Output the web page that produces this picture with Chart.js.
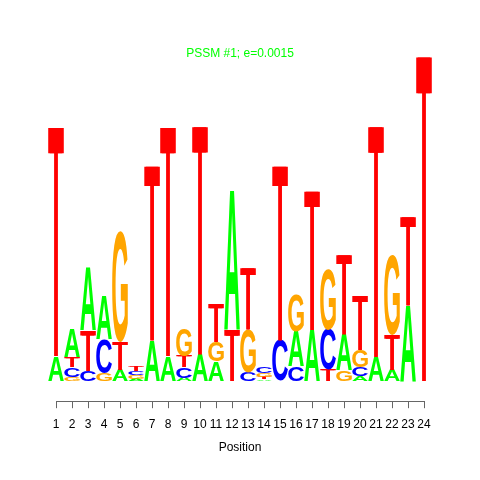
<!DOCTYPE html>
<html>
<head>
<meta charset="utf-8">
<script src="https://cdn.jsdelivr.net/npm/chart.js@4"></script>
<style>
  html, body { margin: 0; padding: 0; background: #ffffff; }
  #wrap { width: 480px; height: 480px; }
</style>
</head>
<body>
<div id="wrap"><canvas id="c" width="480" height="480"></canvas></div>
<script>
// Positions along the motif
const positions = [1,2,3,4,5,6,7,8,9,10,11,12,13,14,15,16,17,18,19,20,21,22,23,24];
const tickLabels = ["1","2","3","4","5","6","7","8","9","10","11","12","13","14","15","16","17","18","19","20","21","22","23","24"];
// Letter heights per position (stacked smallest at bottom)
const heightA = [0.31,0.35,0.78,0.54,0.14,0.03,0.50,0.31,0.04,0.33,0.24,1.73,0,0.02,0,0.43,0.64,0,0.44,0.06,0.30,0.14,0.94,0];
const heightC = [0,0.12,0.13,0.43,0,0.05,0,0,0.13,0,0,0,0.11,0.08,0.50,0.18,0,0.50,0,0.11,0,0,0,0];
const heightG = [0,0.05,0,0.09,1.38,0.04,0,0,0.35,0,0.25,0,0.53,0.05,0,0.45,0,0.76,0.13,0.21,0,1.00,0,0];
const heightT = [2.86,0.13,0.50,0,0.35,0.06,2.18,2.86,0.14,2.85,0.48,0.64,0.76,0.03,2.18,0,1.73,0.14,1.00,0.68,2.88,0.43,1.11,4.06];
const letterColors = { A: "#00FF00", C: "#0000FF", G: "#FFA500", T: "#FF0000" };

const glyphCache = {};
function glyphMetrics(ctx, ch, font) {
  const key = font + ch;
  if (!glyphCache[key]) {
    ctx.save();
    ctx.font = font;
    const m = ctx.measureText(ch);
    glyphCache[key] = {
      left: m.actualBoundingBoxLeft, right: m.actualBoundingBoxRight,
      ascent: m.actualBoundingBoxAscent, descent: m.actualBoundingBoxDescent
    };
    ctx.restore();
  }
  return glyphCache[key];
}

function drawGlyph(ctx, ch, font, x0, y0, w, h) {
  const g = glyphMetrics(ctx, ch, font);
  const gw = g.left + g.right, gh = g.ascent + g.descent;
  ctx.save();
  ctx.font = font;
  ctx.textAlign = 'left';
  ctx.textBaseline = 'alphabetic';
  ctx.fillStyle = letterColors[ch];
  ctx.translate(x0, y0);
  ctx.scale(w / gw, h / gh);
  ctx.fillText(ch, g.left, g.ascent);
  ctx.restore();
}

const logoPlugin = {
  id: 'logo',
  afterDraw(chart) {
    const ctx = chart.ctx;
    const xs = chart.scales.x, ys = chart.scales.y;
    const step = xs.getPixelForValue(2) - xs.getPixelForValue(1);
    const w = step * 0.98;
    positions.forEach((p, i) => {
      const stack = [['A', heightA[i]], ['C', heightC[i]], ['G', heightG[i]], ['T', heightT[i]]]
        .filter(d => d[1] > 0)
        .sort((a, b) => a[1] - b[1]);
      let base = 0;
      const cx = xs.getPixelForValue(p);
      stack.forEach(([ch, h]) => {
        const yTop = ys.getPixelForValue(base + h);
        const yBot = ys.getPixelForValue(base);
        const hh = yBot - yTop;
        if (ch === 'T') {
          // regular-weight T, doubled sideways for a heavier stem
          const font = '200px "Liberation Sans"';
          const d = 1.5;
          drawGlyph(ctx, ch, font, cx - w / 2, yTop, w - d, hh);
          drawGlyph(ctx, ch, font, cx - w / 2 + d, yTop, w - d, hh);
        } else {
          drawGlyph(ctx, ch, 'bold 200px "Liberation Sans"', cx - w / 2, yTop, w, hh);
        }
        base += h;
      });
    });
  }
};

new Chart(document.getElementById('c'), {
  type: 'scatter',
  data: { datasets: [{ data: [], showLine: false }] },
  options: {
    responsive: false,
    animation: false,
    layout: { padding: { left: 56, right: 56, top: 36, bottom: 21 } },
    plugins: {
      legend: { display: false },
      tooltip: { enabled: false },
      title: {
        display: true,
        text: 'PSSM #1; e=0.0015',
        color: '#00FF00',
        font: { family: '"Liberation Sans", Arial, sans-serif', size: 12, weight: 'normal' },
        padding: { top: 10, bottom: 10 }
      }
    },
    scales: {
      x: {
        type: 'linear',
        min: 1, max: 24,
        grid: { display: true, drawOnChartArea: false, drawTicks: true, tickLength: 7, color: '#666666' },
        border: { display: true, color: '#666666', width: 1 },
        ticks: {
          stepSize: 1, autoSkip: false, maxRotation: 0, minRotation: 0, padding: 9,
          color: '#000000',
          font: { family: '"Liberation Sans", Arial, sans-serif', size: 12 },
          callback: (v) => tickLabels[positions.indexOf(v)]
        },
        title: {
          display: true, text: 'Position', color: '#000000',
          font: { family: '"Liberation Sans", Arial, sans-serif', size: 12 },
          padding: { top: 0, bottom: 4 }
        }
      },
      y: {
        display: false,
        min: -0.25, max: 3.8575
      }
    }
  },
  plugins: [logoPlugin]
});
</script>
</body>
</html>
